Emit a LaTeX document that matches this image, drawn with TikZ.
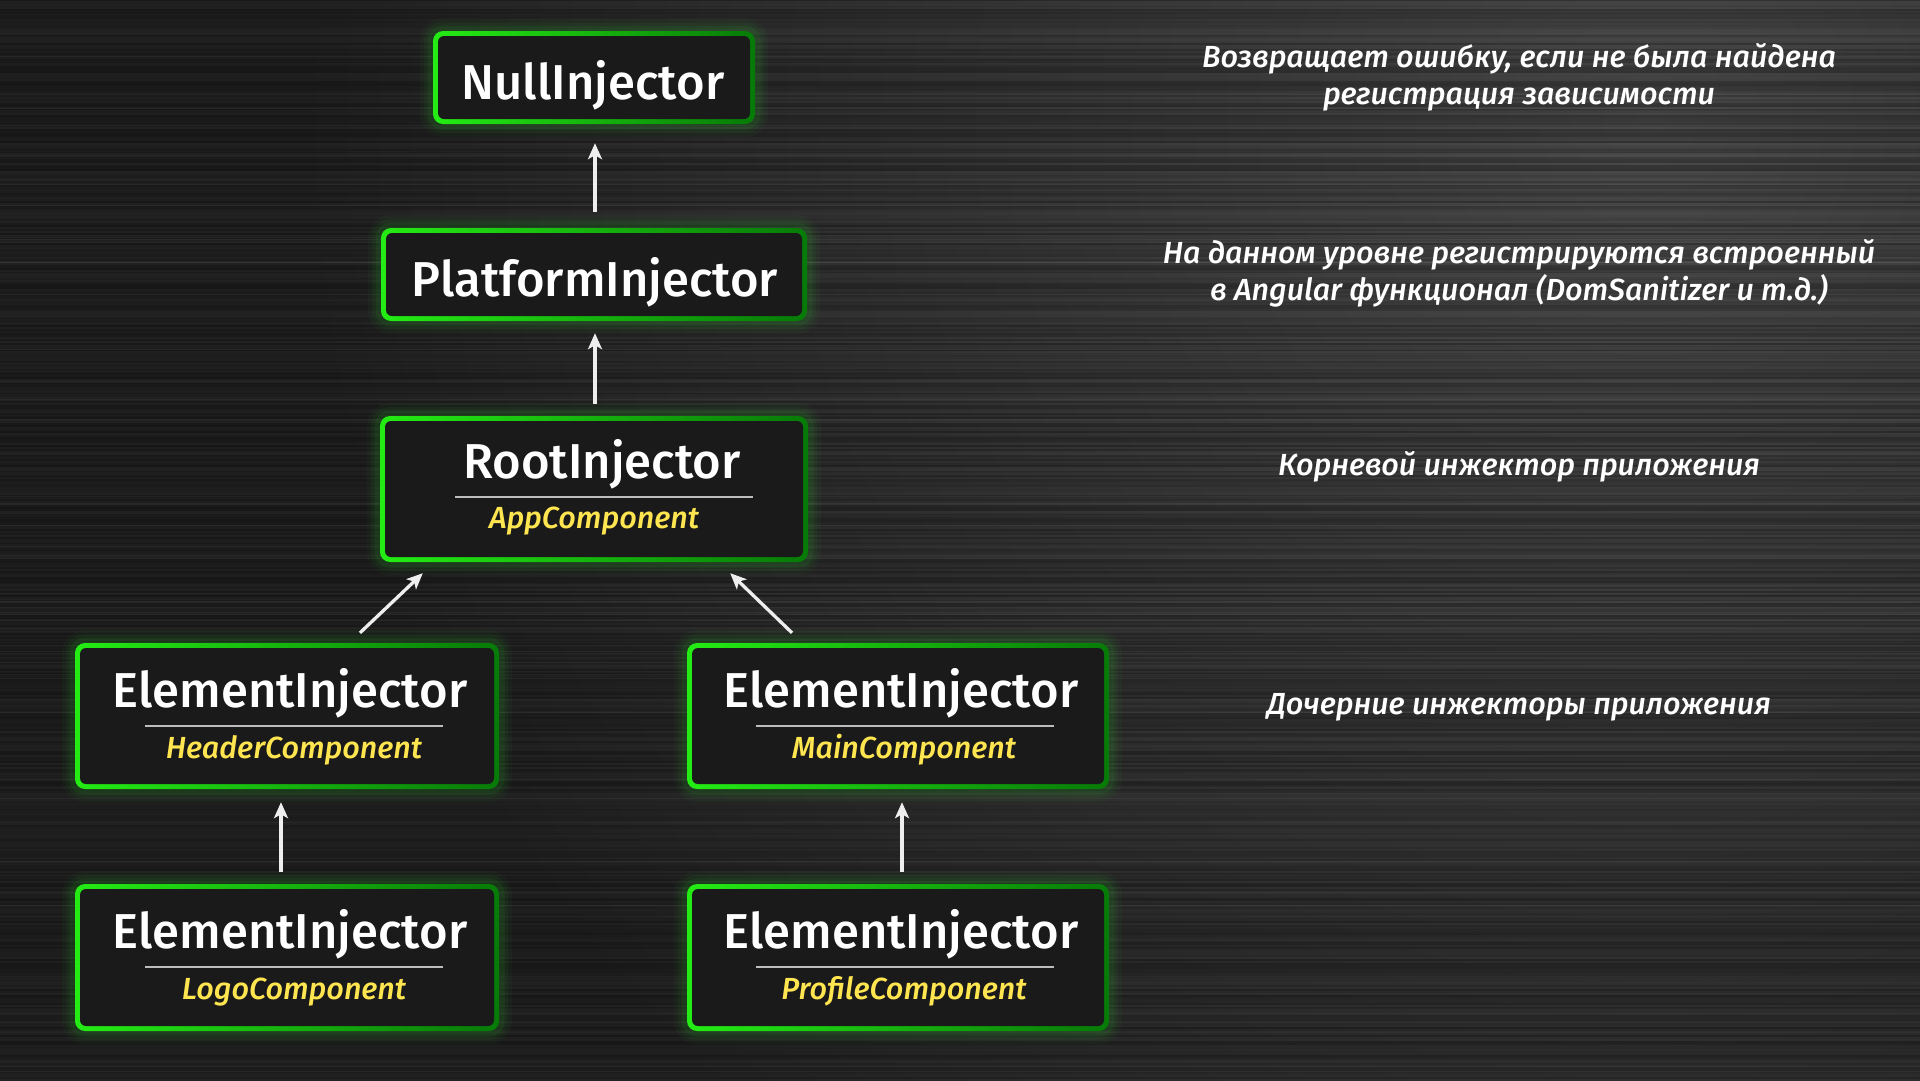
\documentclass[tikz,border=0pt]{standalone}
\usepackage{fontspec}
\usetikzlibrary{arrows.meta,calc}
\newfontfamily\titlef{Fira Sans}[UprightFont={* Medium}, ItalicFont={* Medium Italic}]
\newfontfamily\notef{Fira Sans}[UprightFont={* Medium Italic}]
\definecolor{bgbase}{HTML}{232323}
\definecolor{bghi}{HTML}{4E4E4E}
\definecolor{gL}{HTML}{24EC14}
\definecolor{gR}{HTML}{077A07}
\definecolor{glow}{HTML}{2ECC2E}
\definecolor{innerc}{HTML}{1A1A1A}
\definecolor{yel}{HTML}{FFE650}
\definecolor{rulec}{HTML}{BDBDBD}
\definecolor{arrw}{HTML}{EEEEEE}
\tikzset{
  box/.style={rectangle, rounded corners=10pt, inner sep=0pt,
    preaction={draw=glow, line width=26pt, draw opacity=0.04},
    preaction={draw=glow, line width=18pt, draw opacity=0.06},
    preaction={draw=glow, line width=11pt, draw opacity=0.09},
    left color=gL, right color=gR,
    path picture={
      \fill[innerc, rounded corners=6pt]
        ([shift={(5pt,5pt)}]path picture bounding box.south west) rectangle
        ([shift={(-5pt,-5pt)}]path picture bounding box.north east);
    }},
  ttl/.style={anchor=base, inner sep=0pt, text=white, font=\titlef\fontsize{49}{60}\selectfont},
  sub/.style={anchor=base, inner sep=0pt, text=yel, font=\titlef\itshape\fontsize{30.5}{36}\selectfont},
  note/.style={align=center, inner sep=0pt, text=white, font=\notef\fontsize{30.5}{37}\selectfont},
  sepline/.style={draw=rulec, line width=2pt},
  arr/.style={draw=arrw, line width=3.3pt, -{Stealth[length=16pt,width=14pt,inset=4pt]}}
}
\begin{document}
\begin{tikzpicture}[x=1pt,y=-1pt]
\useasboundingbox (0,0) rectangle (1920,1080);
% background
\fill[bgbase] (-6,-6) rectangle (1926,1086);
\begin{scope}
\clip (0,0) rectangle (1920,1080);
\shade[inner color=bghi, outer color=bgbase] (1650,120) circle (1350);
\pgfmathsetseed{7}
\foreach \i in {0,...,539}{
  \pgfmathsetmacro{\o}{0.04+0.32*rnd}
  \draw[black, line width=1.2pt, opacity=\o] (0,2*\i) -- (1920,2*\i);
}
\foreach \i in {0,...,160}{
  \pgfmathsetmacro{\yy}{4+1070*rnd}
  \pgfmathsetmacro{\o}{0.05*rnd}
  \draw[white, line width=1pt, opacity=\o] (0,\yy) -- (1920,\yy);
}
\end{scope}

% boxes
\node[box, minimum width=322pt, minimum height=93pt] (nul) at (594,77.5) {};
\node[box, minimum width=426pt, minimum height=93pt] (plat) at (594,274.5) {};
\node[box, minimum width=428pt, minimum height=146pt] (root) at (594,489) {};
\node[box, minimum width=424pt, minimum height=146pt] (e1) at (287,716) {};
\node[box, minimum width=422pt, minimum height=146pt] (e2) at (898,716) {};
\node[box, minimum width=424pt, minimum height=147pt] (e3) at (287,957.5) {};
\node[box, minimum width=422pt, minimum height=147pt] (e4) at (898,957.5) {};

% titles
\node[ttl] (tnul) at (593,99) {NullInjector};
\node[ttl] (tplat) at (595,296) {PlatformInjector};
\node[ttl] (troot) at (602,478) {RootInjector};
\draw[sepline] (455,497) -- (753,497);
\node[sub] (sroot) at (594,528) {AppComponent};

\node[ttl] (te1) at (290,707) {ElementInjector};
\draw[sepline] (145,726) -- (443,726);
\node[sub] (se1) at (294,758) {HeaderComponent};

\node[ttl] (te2) at (901,707) {ElementInjector};
\draw[sepline] (756,726) -- (1054,726);
\node[sub] (se2) at (904,758) {MainComponent};

\node[ttl] (te3) at (290,948) {ElementInjector};
\draw[sepline] (145,967) -- (443,967);
\node[sub] (se3) at (294,999) {LogoComponent};

\node[ttl] (te4) at (901,948) {ElementInjector};
\draw[sepline] (756,967) -- (1054,967);
\node[sub] (se4) at (904,999) {ProfileComponent};

% arrows
\draw[arr] ($(plat.north)+(1,-16)$) -- ($(nul.south)+(1,19)$);
\draw[arr] ($(root.north)+(1,-12)$) -- ($(plat.south)+(1,12)$);
\draw[arr] ($(e1.north)+(73,-10)$) -- ($(root.south west)+(43,11)$);
\draw[arr] ($(e2.north)+(-106,-10)$) -- ($(root.south east)+(-78,11)$);
\draw[arr] ($(e3.north)+(-6,-12)$) -- ($(e1.south)+(-6,13)$);
\draw[arr] ($(e4.north)+(4,-12)$) -- ($(e2.south)+(4,13)$);

% notes
\node[note] (n1) at (1519,77.5) {Возвращает ошибку, если не была найдена\\регистрация зависимости};
\node[note] (n2) at (1519,273) {На данном уровне регистрируются встроенный\\в Angular функционал (DomSanitizer и т.д.)};
\node[note] (n3) at (1519,467) {Корневой инжектор приложения};
\node[note] (n4) at (1519,707) {Дочерние инжекторы приложения};
\end{tikzpicture}
\end{document}
